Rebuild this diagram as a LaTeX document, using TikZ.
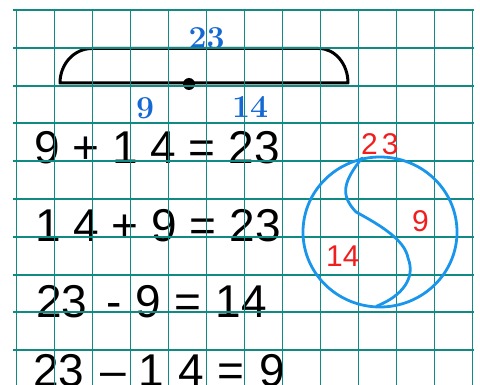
\documentclass[tikz,border=0pt]{standalone}
\usepackage{fontspec}
\newfontfamily\eqfont{Liberation Sans}
\usetikzlibrary{positioning}
\definecolor{gridteal}{RGB}{18,138,132}
\definecolor{partblue}{RGB}{20,105,210}
\definecolor{ringblue}{RGB}{25,150,235}
\definecolor{handred}{RGB}{240,30,30}

\begin{document}
\begin{tikzpicture}[x=1pt,y=-1pt,
  eq/.style={anchor=base west,inner sep=0pt,font=\eqfont\fontsize{46}{46}\selectfont},
  part/.style={anchor=base west,inner sep=0pt,text=partblue,font=\fontsize{32}{32}\selectfont\bfseries},
  hand/.style={anchor=base west,inner sep=0pt,text=handred,font=\eqfont\fontsize{30}{30}\selectfont}]
\useasboundingbox (0,0) rectangle (480,385);
% bar with the parts
\draw[line width=3pt,line join=round] (60,83) -- (348,83) .. controls (348,64) and (335,48.5) .. (319,48.5) -- (92,48.5) .. controls (74,48.5) and (60,64) .. cycle;
\node[circle,fill,inner sep=0pt,minimum size=12pt] (dot) at (189,84) {};
\node[part] (p23) at (188.5,48.5) {23};
\node[part] (p9) at (136,119) {9};
\node[part] (p14) at (232,118) {14};
% the four sums
\node[eq] (eqa) at (34,164) {9 + 1 4 = 23};
\node[eq] (eqb) at (35,242) {1 4 + 9 = 23};
\node[eq] (eqc) at (36,317) {23\hspace{19pt}-\hspace{14pt}9 = \hspace{2pt}14};
\node[eq] (eqd) at (33,386) {23\hspace{16pt}\textendash\hspace{12.4pt}1\hspace{15pt}4\hspace{13pt}=\hspace{15pt}9};
% squared paper
\foreach \x in {0,...,12}
  \draw[gridteal,line width=1.9pt] (16.5+38*\x,10) -- (16.5+38*\x,385);
\foreach \y in {0,...,9}
  \draw[gridteal,line width=1.9pt] (13,10+37.8*\y) -- (474,10+37.8*\y);
% circle split in two
\draw[ringblue,line width=2.8pt] (380,232) ellipse [x radius=77pt,y radius=75pt];
\draw[ringblue,line width=2.8pt,line cap=round] (362,158) .. controls (343,182) and (340,195) .. (356,212) .. controls (380,225) and (405,240) .. (408,258) .. controls (416,278) and (402,296) .. (377,306);
\node[hand] (r23) at (361,155) {2\hspace{4pt}3};
\node[hand] (r9) at (412,232) {9};
\node[hand] (r14) at (326,267) {14};
\end{tikzpicture}
\end{document}
